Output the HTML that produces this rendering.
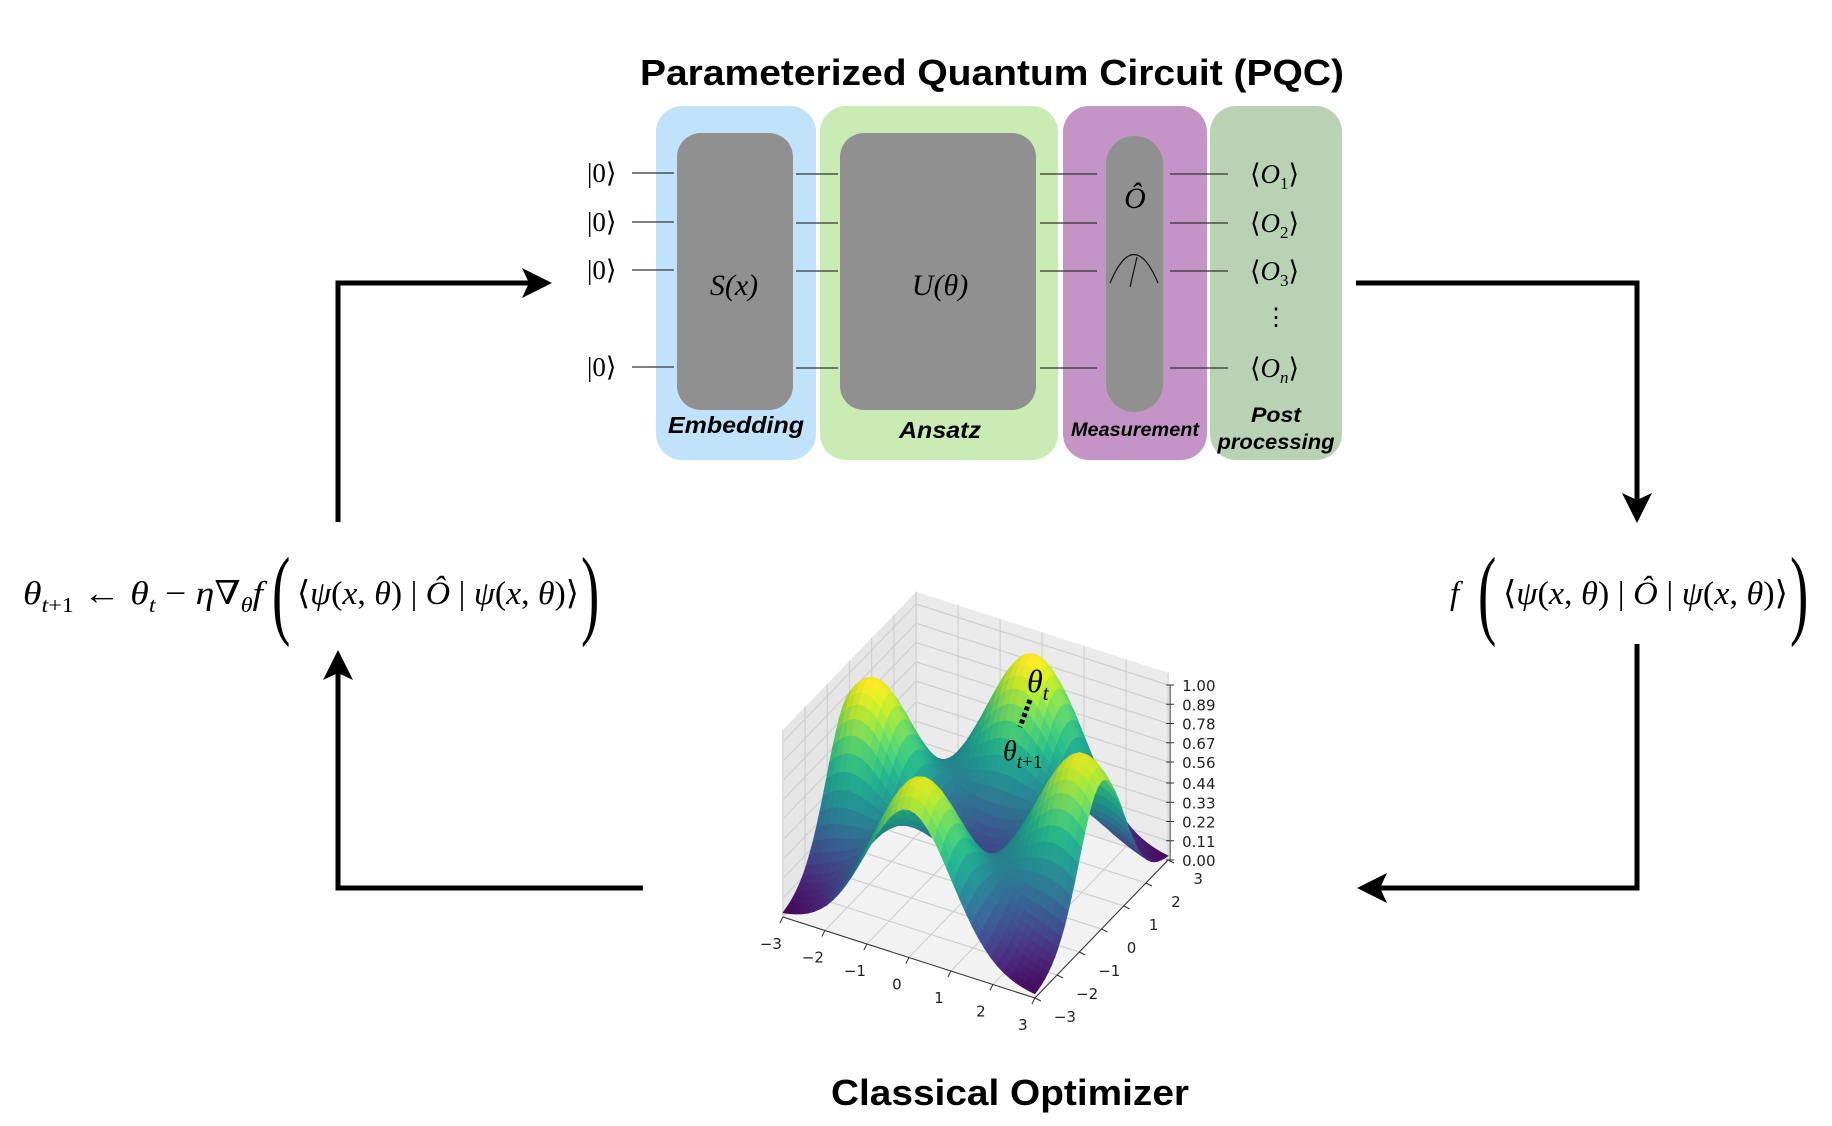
<!DOCTYPE html>
<html><head><meta charset="utf-8"><style>
html,body{margin:0;padding:0;background:#fff;}
svg{display:block;}
.serif{font-family:"Liberation Serif","DejaVu Serif",serif;}
.sans{font-family:"Liberation Sans","DejaVu Sans",sans-serif;}
</style></head><body>
<svg id="root" width="1832" height="1126" viewBox="0 0 1832 1126" xmlns="http://www.w3.org/2000/svg">
<defs>
<marker id="ah" markerWidth="6" markerHeight="6" refX="5" refY="3" orient="auto" markerUnits="strokeWidth"><path d="M0,0 L6,3 L0,6 L1.4,3 Z" fill="#000"/></marker>
</defs>
<text x="992" y="85" text-anchor="middle" class="sans" font-weight="bold" font-size="36" textLength="704" lengthAdjust="spacingAndGlyphs">Parameterized Quantum Circuit (PQC)</text>

<rect x="656" y="106" width="160" height="354" rx="26" fill="#c0e2fb"/>
<rect x="820" y="106" width="238" height="354" rx="26" fill="#c9ecb4"/>
<rect x="1063" y="106" width="144" height="354" rx="26" fill="#c494c6"/>
<rect x="1210" y="106" width="132" height="354" rx="26" fill="#b8d2b3"/>

<g stroke="#333" stroke-width="1.2">
<line x1="632" y1="173" x2="674" y2="173"/><line x1="632" y1="222" x2="674" y2="222"/><line x1="632" y1="270" x2="674" y2="270"/><line x1="632" y1="367" x2="674" y2="367"/>
<line x1="796" y1="174" x2="838" y2="174"/><line x1="796" y1="223" x2="838" y2="223"/><line x1="796" y1="271" x2="838" y2="271"/><line x1="796" y1="368" x2="838" y2="368"/>
<line x1="1040" y1="174" x2="1097" y2="174"/><line x1="1040" y1="223" x2="1097" y2="223"/><line x1="1040" y1="271" x2="1097" y2="271"/><line x1="1040" y1="368" x2="1097" y2="368"/>
<line x1="1170" y1="174" x2="1228" y2="174"/><line x1="1170" y1="223" x2="1228" y2="223"/><line x1="1170" y1="271" x2="1228" y2="271"/><line x1="1170" y1="368" x2="1228" y2="368"/>
</g>
<rect x="677" y="133" width="116" height="277" rx="24" fill="#909090"/>
<rect x="840" y="133" width="196" height="277" rx="24" fill="#909090"/>
<rect x="1106" y="136" width="57" height="276" rx="28" fill="#909090"/>
<text x="734" y="295" text-anchor="middle" class="serif" font-style="italic" font-size="30">S(x)</text>
<text x="940" y="295" text-anchor="middle" class="serif" font-style="italic" font-size="30">U(θ)</text>
<text x="1135" y="208" text-anchor="middle" class="serif" font-style="italic" font-size="30">Ô</text>
<g fill="none" stroke="#111" stroke-width="1.2"><path d="M1110,283 Q1134,226 1158,283"/><line x1="1130" y1="287" x2="1137" y2="257"/></g>

<g class="serif" font-size="27">
<text x="587" y="182">|0⟩</text><text x="587" y="231">|0⟩</text><text x="587" y="279">|0⟩</text><text x="587" y="376">|0⟩</text>
</g>
<g class="serif" font-size="27">
<text x="1250" y="183">⟨<tspan font-style="italic">O</tspan><tspan font-size="17" dy="6">1</tspan><tspan dy="-6">⟩</tspan></text>
<text x="1250" y="232">⟨<tspan font-style="italic">O</tspan><tspan font-size="17" dy="6">2</tspan><tspan dy="-6">⟩</tspan></text>
<text x="1250" y="280">⟨<tspan font-style="italic">O</tspan><tspan font-size="17" dy="6">3</tspan><tspan dy="-6">⟩</tspan></text>
<text x="1250" y="377">⟨<tspan font-style="italic">O</tspan><tspan font-size="17" dy="6" font-style="italic">n</tspan><tspan dy="-6">⟩</tspan></text>
<text x="1276" y="325" text-anchor="middle" font-size="24">⋮</text>
</g>
<g class="sans" font-weight="bold" font-style="italic" text-anchor="middle">
<text x="736" y="433" font-size="23" textLength="136" lengthAdjust="spacingAndGlyphs">Embedding</text>
<text x="940" y="438" font-size="23" textLength="82" lengthAdjust="spacingAndGlyphs">Ansatz</text>
<text x="1135" y="436" font-size="19" textLength="128" lengthAdjust="spacingAndGlyphs">Measurement</text>
<text x="1276" y="422" font-size="21" textLength="50" lengthAdjust="spacingAndGlyphs">Post</text>
<text x="1276" y="449" font-size="21" textLength="117" lengthAdjust="spacingAndGlyphs">processing</text>
</g>

<g fill="none" stroke="#000" stroke-width="5">
<polyline points="338,522 338,283 547,283" marker-end="url(#ah)"/>
<polyline points="1356,283 1637,283 1637,518" marker-end="url(#ah)"/>
<polyline points="1637,644 1637,888 1362,888" marker-end="url(#ah)"/>
<polyline points="643,888 338,888 338,655" marker-end="url(#ah)"/>
</g>

<g class="serif" font-size="33">
<text x="23" y="604" textLength="240" lengthAdjust="spacingAndGlyphs"><tspan font-style="italic">θ</tspan><tspan font-size="21" dy="8" font-style="italic">t</tspan><tspan font-size="21">+1</tspan><tspan dy="-8"> ← </tspan><tspan font-style="italic">θ</tspan><tspan font-size="21" dy="8" font-style="italic">t</tspan><tspan dy="-8"> − </tspan><tspan font-style="italic">η</tspan>∇<tspan font-size="21" dy="8" font-style="italic">θ</tspan><tspan dy="-8" font-style="italic">f</tspan></text>
<text x="272" y="626" font-size="100" transform="translate(272 0) scale(0.55 1) translate(-272 0)">(</text>
<text x="297" y="604" textLength="282" lengthAdjust="spacingAndGlyphs">⟨<tspan font-style="italic">ψ</tspan>(<tspan font-style="italic">x</tspan>, <tspan font-style="italic">θ</tspan>) | <tspan font-style="italic">Ô</tspan> | <tspan font-style="italic">ψ</tspan>(<tspan font-style="italic">x</tspan>, <tspan font-style="italic">θ</tspan>)⟩</text>
<text x="581" y="626" font-size="100" transform="translate(581 0) scale(0.55 1) translate(-581 0)">)</text>
</g>
<g class="serif" font-size="33">
<text x="1450" y="604" font-style="italic">f</text>
<text x="1478" y="626" font-size="100" transform="translate(1478 0) scale(0.55 1) translate(-1478 0)">(</text>
<text x="1503" y="604" textLength="285" lengthAdjust="spacingAndGlyphs">⟨<tspan font-style="italic">ψ</tspan>(<tspan font-style="italic">x</tspan>, <tspan font-style="italic">θ</tspan>) | <tspan font-style="italic">Ô</tspan> | <tspan font-style="italic">ψ</tspan>(<tspan font-style="italic">x</tspan>, <tspan font-style="italic">θ</tspan>)⟩</text>
<text x="1790" y="626" font-size="100" transform="translate(1790 0) scale(0.55 1) translate(-1790 0)">)</text>
</g>

<g id="plot"></g>

<g class="serif" font-style="italic">
<text x="1027" y="692" font-size="32">θ<tspan font-size="21" dy="8">t</tspan></text>
<text x="1003" y="760" font-size="28">θ<tspan font-size="19" dy="8">t</tspan><tspan font-size="19" font-style="normal">+1</tspan></text>
</g>
<line x1="1030" y1="700" x2="1020" y2="727" stroke="#000" stroke-width="5" stroke-dasharray="4,3"/>

<text x="1010" y="1105" text-anchor="middle" class="sans" font-weight="bold" font-size="36" textLength="358" lengthAdjust="spacingAndGlyphs">Classical Optimizer</text>
</svg>
<script>
// surface described by its four peaks (position and height)
var peakX = [-2.5, 0, 0, 2.5];
var peakY = [0, 2.5, -2.5, 0];
var peakZ = [1.0, 1.0, 0.95, 0.95];
var zTicks = [0.00, 0.11, 0.22, 0.33, 0.44, 0.56, 0.67, 0.78, 0.89, 1.00];
var zTickLabels = ["0.00","0.11","0.22","0.33","0.44","0.56","0.67","0.78","0.89","1.00"];
var xyTicks = [-3, -2, -1, 0, 1, 2, 3];
var xyTickLabels = ["−3","−2","−1","0","1","2","3"];

var NS = "http://www.w3.org/2000/svg";
var g = document.getElementById('plot');
function P(x, y, z) { return [975.5 + 42 * x + 22.2 * y, 888.5 + 13.5 * x - 23 * y - 175 * z]; }
function el(tag, attrs) { var e = document.createElementNS(NS, tag); for (var k in attrs) e.setAttribute(k, attrs[k]); g.appendChild(e); return e; }
function pts(a) { return a.map(function (p) { return p[0].toFixed(1) + ',' + p[1].toFixed(1); }).join(' '); }
var ZT = 1.07;
var pf = el('polygon', { points: pts([P(-3,-3,0), P(3,-3,0), P(3,3,0), P(-3,3,0)]), fill: '#f2f2f2' });


var pb = el('polygon', { points: pts([P(-3,3,0), P(3,3,0), P(3,3,ZT), P(-3,3,ZT)]), fill: '#ebebeb' });


var pl = el('polygon', { points: pts([P(-3,-3,0), P(-3,3,0), P(-3,3,ZT), P(-3,-3,ZT)]), fill: '#e6e6e6' });


xyTicks.forEach(function (t) {
  var a = el('polyline', { points: pts([P(t,-3,0), P(t,3,0), P(t,3,ZT)]), fill: 'none', stroke: '#d0d0d0', 'stroke-width': 1.2 });
  
  
  var b = el('polyline', { points: pts([P(3,t,0), P(-3,t,0), P(-3,t,ZT)]), fill: 'none', stroke: '#d0d0d0', 'stroke-width': 1.2 });
  
  
});
zTicks.forEach(function (t) {
  var c = el('polyline', { points: pts([P(-3,-3,t), P(-3,3,t), P(3,3,t)]), fill: 'none', stroke: '#d0d0d0', 'stroke-width': 1.2 });
  
  
});
function f(x, y) {
  var s = 0;
  for (var i = 0; i < peakX.length; i++) {
    var d = (x - peakX[i]) * (x - peakX[i]) + (y - peakY[i]) * (y - peakY[i]);
    s += peakZ[i] * Math.exp(-d / 2.1);
  }
  return Math.min(s, 1);
}
var VC = [[68,1,84],[72,36,117],[65,68,135],[53,95,141],[42,120,142],[33,145,140],[34,168,132],[68,191,112],[122,209,81],[189,223,38],[253,231,37]];
function viridis(t, sh) {
  t = Math.max(0, Math.min(1, t)) * 10; var i = Math.min(9, Math.floor(t)), u = t - i;
  var c = [0,1,2].map(function (k) { return Math.round(Math.min(255, (VC[i][k] + (VC[i+1][k] - VC[i][k]) * u) * sh)); });
  return 'rgb(' + c.join(',') + ')';
}
var N = 40, quads = [];
for (var i = 0; i < N; i++) for (var j = 0; j < N; j++) {
  var x0 = -3 + 6 * i / N, x1 = -3 + 6 * (i + 1) / N, y0 = -3 + 6 * j / N, y1 = -3 + 6 * (j + 1) / N;
  var z00 = f(x0,y0), z10 = f(x1,y0), z11 = f(x1,y1), z01 = f(x0,y1);
  var zm = (z00 + z10 + z11 + z01) / 4;
  var dzx = ((z10 - z00) + (z11 - z01)) / 2 / (x1 - x0), dzy = ((z01 - z00) + (z11 - z10)) / 2 / (y1 - y0);
  var sh = 1 + 0.3 * (-dzx * 0.6 + dzy * 0.3);
  quads.push({ d: (y0 + y1) / 2 - (x0 + x1) / 2, p: [P(x0,y0,z00), P(x1,y0,z10), P(x1,y1,z11), P(x0,y1,z01)], c: viridis(zm, sh) });
}
quads.sort(function (a, b) { return b.d - a.d; });
quads.forEach(function (q) {
  var e = el('polygon', { points: pts(q.p), fill: q.c, stroke: q.c, 'stroke-width': 0.6 });
  
  
});
var ax = el('line', { x1: P(-3,-3,0)[0], y1: P(-3,-3,0)[1], x2: P(3,-3,0)[0], y2: P(3,-3,0)[1], stroke: '#333', 'stroke-width': 1 });


var ay = el('line', { x1: P(3,-3,0)[0], y1: P(3,-3,0)[1], x2: P(3,3,0)[0], y2: P(3,3,0)[1], stroke: '#333', 'stroke-width': 1 });


var az = el('line', { x1: P(3,3,0)[0] + 2, y1: P(3,3,0)[1], x2: P(3,3,1)[0] + 2, y2: P(3,3,1)[1], stroke: '#333', 'stroke-width': 1 });


zTicks.forEach(function (t, k) {
  var p = P(3, 3, t);
  var tk = el('line', { x1: p[0] - 2, y1: p[1], x2: p[0] + 6, y2: p[1], stroke: '#333', 'stroke-width': 1 });
  
  
  var tx = el('text', { x: p[0] + 14, y: p[1] + 6, 'font-family': 'DejaVu Sans, sans-serif', 'font-size': 15, fill: '#222' });
  tx.textContent = zTickLabels[k];
  
  
});
xyTicks.forEach(function (t, k) {
  var p = P(t, -3, 0);
  var tk = el('line', { x1: p[0], y1: p[1], x2: p[0] - 3, y2: p[1] + 6, stroke: '#333', 'stroke-width': 1 });
  
  
  var tx = el('text', { x: p[0] - 12, y: p[1] + 32, 'text-anchor': 'middle', 'font-family': 'DejaVu Sans, sans-serif', 'font-size': 15, fill: '#222' });
  tx.textContent = xyTickLabels[k];
  
  
  var q = P(3, t, 0);
  var tk2 = el('line', { x1: q[0], y1: q[1], x2: q[0] + 6, y2: q[1] + 3, stroke: '#333', 'stroke-width': 1 });
  
  
  var ty = el('text', { x: q[0] + 30, y: q[1] + 24, 'text-anchor': 'middle', 'font-family': 'DejaVu Sans, sans-serif', 'font-size': 15, fill: '#222' });
  ty.textContent = xyTickLabels[k];
  
  
});
</script>
</body></html>
